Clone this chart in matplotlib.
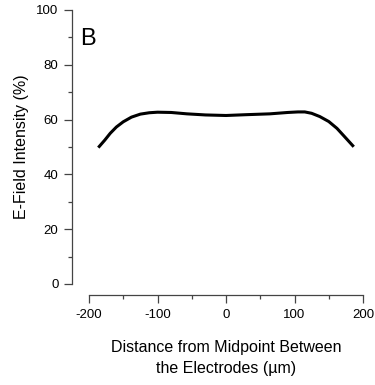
import numpy as np
import matplotlib.pyplot as plt
from matplotlib.ticker import MultipleLocator

plt.rcParams['font.family'] = ['Liberation Sans', 'DejaVu Sans']
plt.rcParams['axes.unicode_minus'] = False

# E-field profile
distance = [-185, -177, -169, -160, -150, -138, -125, -112, -100, -80, -57, -30, 0,
            30, 64, 90, 105, 115, 125, 137, 150, 162, 173, 185]
intensity = [50.2, 52.5, 55.0, 57.3, 59.2, 60.9, 62.0, 62.5, 62.7, 62.6, 62.1, 61.7, 61.5,
             61.8, 62.1, 62.6, 62.8, 62.8, 62.3, 61.1, 59.3, 56.8, 53.8, 50.5]

fig = plt.figure(figsize=(3.75, 3.85), dpi=100)
ax = fig.add_axes([89/375, 1 - 284/385, 274/375, 274/385])

ax.plot(distance, intensity, color='black', lw=2.2, solid_joinstyle='round')

ax.set_xlim(-200, 200)
ax.set_ylim(0, 100)
ax.set_xticks([-200, -100, 0, 100, 200])
ax.set_yticks([0, 20, 40, 60, 80, 100])
ax.xaxis.set_minor_locator(MultipleLocator(50))
ax.yaxis.set_minor_locator(MultipleLocator(10))

for s in ['top', 'right']:
    ax.spines[s].set_visible(False)
ax.spines['left'].set_position(('outward', 12))
ax.spines['bottom'].set_position(('outward', 8))
for s in ['left', 'bottom']:
    ax.spines[s].set_color('#444444')
    ax.spines[s].set_linewidth(0.9)

ax.tick_params(which='major', length=6, width=0.9, color='#444444', labelsize=9.5, pad=4)
ax.tick_params(which='minor', length=3, width=0.9, color='#444444')

ax.set_ylabel('E-Field Intensity (%)', fontsize=11.5, labelpad=5)
ax.set_xlabel('Distance from Midpoint Between\nthe Electrodes (\u00b5m)', fontsize=11.5,
              labelpad=14, linespacing=1.45)

fig.text(80/375, 1 - 45/385, 'B', fontsize=17)

fig.savefig('out.png', dpi=100)
